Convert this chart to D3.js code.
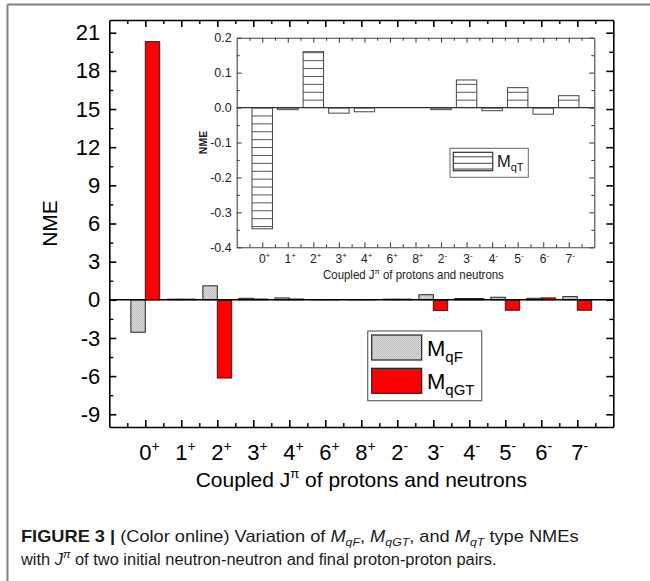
<!DOCTYPE html>
<html><head><meta charset="utf-8">
<script src="https://cdn.jsdelivr.net/npm/d3@7"></script>
<style>
html,body{margin:0;padding:0;background:#fff;}
svg text{font-family:"Liberation Sans",Arial,sans-serif;}
</style></head>
<body>
<svg id="c" width="650" height="581"></svg>
<script>
// ---------- data ----------
const categories = ["0","1","2","3","4","6","8","2","3","4","5","6","7"];
const parities   = ["+","+","+","+","+","+","+","-","-","-","-","-","-"];
const mqF  = [-2.55, 0.05, 1.1, 0.12, 0.15, 0.02, 0.02, 0.05, 0.4, 0.1, 0.2, 0.12, 0.25];
const mqGT = [20.3, 0.05, -6.15, 0.06, 0.06, 0.02, 0.02, 0.05, -0.85, 0.1, -0.82, 0.15, -0.82];
const mqT  = [-0.347, -0.006, 0.160, -0.016, -0.012, 0.0, 0.0, -0.006, 0.079, -0.009, 0.057, -0.019, 0.034];
const mainYTicks  = [-9,-6,-3,0,3,6,9,12,15,18,21];
const insetYTicks = [-0.4,-0.3,-0.2,-0.1,0.0,0.1,0.2];
const legendMain  = [{name:"M", sub:"qF"}, {name:"M", sub:"qGT"}];
const legendInset = [{name:"M", sub:"qT"}];

const svg = d3.select("#c");

// outer frame
svg.append("line").attr("x1",7.5).attr("y1",4.5).attr("x2",650).attr("y2",4.5).attr("stroke","#808080").attr("stroke-width",2);
svg.append("line").attr("x1",7.5).attr("y1",4.5).attr("x2",7.5).attr("y2",581).attr("stroke","#808080").attr("stroke-width",2);

const defs = svg.append("defs");
// stipple for MqF
const pf = defs.append("pattern").attr("id","stip").attr("patternUnits","userSpaceOnUse").attr("width",2).attr("height",2);
pf.append("rect").attr("width",2).attr("height",2).attr("fill","#dadada");
pf.append("rect").attr("width",1).attr("height",1).attr("fill","#b8b8b8");
pf.append("rect").attr("x",1).attr("y",1).attr("width",1).attr("height",1).attr("fill","#c4c4c4");

// ---------- main chart ----------
const M = {l:109.3, r:613.3, t:20, b:427};
const x = d3.scaleLinear().domain([0,14]).range([M.l, M.r]);
const y = d3.scaleLinear().domain([-10,22]).range([M.b, M.t]);
const idx = categories.map((d,i)=>i+1);
const bw = 0.4;
const hy = v => String(v);                 // plain hyphen-minus
const hy1 = v => (+v).toFixed(1);

const g = svg.append("g");
// bars
g.selectAll(".bf").data(mqF).join("rect")
  .attr("x",(d,i)=>x(i+1-bw)).attr("width",x(bw)-x(0))
  .attr("y",d=>y(Math.max(d,0))).attr("height",d=>Math.abs(y(d)-y(0)))
  .attr("fill","url(#stip)").attr("stroke","#222").attr("stroke-width",1);
g.selectAll(".bg").data(mqGT).join("rect")
  .attr("x",(d,i)=>x(i+1)).attr("width",x(bw)-x(0))
  .attr("y",d=>y(Math.max(d,0))).attr("height",d=>Math.abs(y(d)-y(0)))
  .attr("fill","#ff0000").attr("stroke","#222").attr("stroke-width",1);
// zero line
g.append("line").attr("x1",x(0)).attr("x2",x(14)).attr("y1",y(0)).attr("y2",y(0)).attr("stroke","#000").attr("stroke-width",1.6);

function styleAxis(sel, w){
  sel.selectAll("path,line").attr("stroke","#000").attr("stroke-width",w);
}
const minorY = d3.range(-9.0, 22.01, 1.5).filter(v=>!mainYTicks.includes(v));
const majorX = idx;
const minorX = d3.range(0.5, 14, 1);

// left axis
g.append("g").attr("transform",`translate(${M.l},0)`)
  .call(d3.axisLeft(y).tickValues(mainYTicks).tickSizeInner(-7).tickSizeOuter(0).tickPadding(9).tickFormat(hy))
  .call(s=>{styleAxis(s,1.6); s.selectAll("text").attr("font-size",22).attr("fill","#000").attr("font-family","Liberation Sans, Arial");});
g.append("g").attr("transform",`translate(${M.l},0)`)
  .call(d3.axisLeft(y).tickValues(minorY).tickSizeInner(-4).tickSizeOuter(0).tickFormat(""))
  .call(s=>{styleAxis(s,1.4); s.select(".domain").remove();});
// right axis
g.append("g").attr("transform",`translate(${M.r},0)`)
  .call(d3.axisRight(y).tickValues(mainYTicks).tickSizeInner(-7).tickSizeOuter(0).tickFormat(""))
  .call(s=>styleAxis(s,1.6));
g.append("g").attr("transform",`translate(${M.r},0)`)
  .call(d3.axisRight(y).tickValues(minorY).tickSizeInner(-4).tickSizeOuter(0).tickFormat(""))
  .call(s=>{styleAxis(s,1.4); s.select(".domain").remove();});
// bottom axis
g.append("g").attr("transform",`translate(0,${M.b})`)
  .call(d3.axisBottom(x).tickValues(majorX).tickSizeInner(-7).tickSizeOuter(0).tickFormat(""))
  .call(s=>styleAxis(s,1.6));
g.append("g").attr("transform",`translate(0,${M.b})`)
  .call(d3.axisBottom(x).tickValues(minorX).tickSizeInner(-4).tickSizeOuter(0).tickFormat(""))
  .call(s=>{styleAxis(s,1.4); s.select(".domain").remove();});
// top axis
g.append("g").attr("transform",`translate(0,${M.t})`)
  .call(d3.axisTop(x).tickValues(majorX).tickSizeInner(-7).tickSizeOuter(0).tickFormat(""))
  .call(s=>styleAxis(s,1.6));
g.append("g").attr("transform",`translate(0,${M.t})`)
  .call(d3.axisTop(x).tickValues(minorX).tickSizeInner(-4).tickSizeOuter(0).tickFormat(""))
  .call(s=>{styleAxis(s,1.4); s.select(".domain").remove();});

// x tick labels: digit centred on the tick, parity sign as superscript after it
function catLabels(sel, scale, yPos, fs, sfs, sdy, color){
  sel.each(function(d,i){
    const t = d3.select(this).attr("y",yPos).attr("font-size",fs).attr("fill",color).attr("text-anchor","start");
    const a = t.append("tspan").text(d);
    t.append("tspan").attr("font-size",sfs).attr("dy",sdy).text(parities[i]);
    const w = a.node().getComputedTextLength();
    t.attr("x", scale(i+1) - w/2);
  });
}
g.selectAll(".xl").data(categories).join("text").call(catLabels, x, M.b+33, 22, 14, -9, "#000");

// axis titles
g.append("text").attr("transform",`translate(57,${(M.t+M.b)/2}) rotate(-90)`)
  .attr("text-anchor","middle").attr("font-size",21).attr("fill","#000").text("NME");
const xt = g.append("text").attr("x",(M.l+M.r)/2).attr("y",487).attr("text-anchor","middle").attr("font-size",21).attr("fill","#000");
xt.append("tspan").text("Coupled J");
xt.append("tspan").attr("font-size",13).attr("dy",-9).text("π");
xt.append("tspan").attr("dy",9).text("  of protons and neutrons");

// main legend
const lg = g.append("g");
lg.append("rect").attr("x",367.7).attr("y",331).attr("width",114).attr("height",69.7).attr("fill","#fff").attr("stroke","#666").attr("stroke-width",1.2);
const lfill = ["url(#stip)","#ff0000"];
legendMain.forEach((d,i)=>{
  lg.append("rect").attr("x",371.7).attr("y",335+i*33.3).attr("width",50).attr("height",25)
    .attr("fill",lfill[i]).attr("stroke","#222").attr("stroke-width",1.2);
  const t = lg.append("text").attr("x",427).attr("y",355.5+i*33.3).attr("font-size",22).attr("fill","#000");
  t.append("tspan").text(d.name);
  t.append("tspan").attr("font-size",15).attr("dy",6).text(d.sub);
});

// ---------- inset ----------
const I = {l:236.7, r:594.3, t:37.7, b:247.3};
const xi = d3.scaleLinear().domain([0,14]).range([I.l, I.r]);
const yi = d3.scaleLinear().domain([-0.4,0.2]).range([I.b, I.t]);
const gi = svg.append("g");
const hp = defs.append("pattern").attr("id","hatch").attr("patternUnits","userSpaceOnUse")
  .attr("width",10).attr("height",7.9).attr("y",yi(0));
hp.append("rect").attr("width",10).attr("height",7.9).attr("fill","#fff");
hp.append("line").attr("x1",0).attr("x2",10).attr("y1",0.5).attr("y2",0.5).attr("stroke","#555").attr("stroke-width",1);

gi.append("rect").attr("x",I.l).attr("y",I.t).attr("width",I.r-I.l).attr("height",I.b-I.t).attr("fill","#fff");
gi.selectAll(".bt").data(mqT).join("rect")
  .attr("x",(d,i)=>xi(i+1-bw)).attr("width",xi(2*bw)-xi(0))
  .attr("y",d=>yi(Math.max(d,0))).attr("height",d=>Math.abs(yi(d)-yi(0)))
  .attr("fill","url(#hatch)").attr("stroke","#444").attr("stroke-width",1);
gi.append("line").attr("x1",I.l).attr("x2",I.r).attr("y1",yi(0)).attr("y2",yi(0)).attr("stroke","#333").attr("stroke-width",1.2);

const minorYi = d3.range(-0.35, 0.2, 0.1).map(v=>+v.toFixed(2));
function styleI(sel){ sel.selectAll("path,line").attr("stroke","#444").attr("stroke-width",1.1); }
gi.append("g").attr("transform",`translate(${I.l},0)`)
  .call(d3.axisLeft(yi).tickValues(insetYTicks).tickSizeInner(-5).tickSizeOuter(0).tickPadding(5).tickFormat(hy1))
  .call(s=>{styleI(s); s.selectAll("text").attr("font-size",12.5).attr("fill","#222");});
gi.append("g").attr("transform",`translate(${I.l},0)`)
  .call(d3.axisLeft(yi).tickValues(minorYi).tickSizeInner(-3).tickSizeOuter(0).tickFormat(""))
  .call(s=>{styleI(s); s.select(".domain").remove();});
gi.append("g").attr("transform",`translate(${I.r},0)`)
  .call(d3.axisRight(yi).tickValues(insetYTicks).tickSizeInner(-5).tickSizeOuter(0).tickFormat(""))
  .call(styleI);
gi.append("g").attr("transform",`translate(${I.r},0)`)
  .call(d3.axisRight(yi).tickValues(minorYi).tickSizeInner(-3).tickSizeOuter(0).tickFormat(""))
  .call(s=>{styleI(s); s.select(".domain").remove();});
gi.append("g").attr("transform",`translate(0,${I.b})`)
  .call(d3.axisBottom(xi).tickValues(majorX).tickSizeInner(-5).tickSizeOuter(0).tickFormat(""))
  .call(styleI);
gi.append("g").attr("transform",`translate(0,${I.b})`)
  .call(d3.axisBottom(xi).tickValues(minorX).tickSizeInner(-3).tickSizeOuter(0).tickFormat(""))
  .call(s=>{styleI(s); s.select(".domain").remove();});
gi.append("g").attr("transform",`translate(0,${I.t})`)
  .call(d3.axisTop(xi).tickValues(majorX).tickSizeInner(-5).tickSizeOuter(0).tickFormat(""))
  .call(styleI);
gi.append("g").attr("transform",`translate(0,${I.t})`)
  .call(d3.axisTop(xi).tickValues(minorX).tickSizeInner(-3).tickSizeOuter(0).tickFormat(""))
  .call(s=>{styleI(s); s.select(".domain").remove();});

gi.selectAll(".xli").data(categories).join("text").call(catLabels, xi, I.b+16, 12, 8, -5, "#222");

gi.append("text").attr("transform",`translate(207,${(I.t+I.b)/2}) rotate(-90)`)
  .attr("text-anchor","middle").attr("font-size",10.5).attr("font-weight","bold").attr("fill","#222").text("NME");
{
  const grp = gi.append("g");
  const xti = grp.append("text").attr("x",0).attr("y",0).attr("font-size",12).attr("fill","#222");
  xti.append("tspan").text("Coupled J");
  xti.append("tspan").attr("font-size",8).attr("dy",-5).text("π");
  xti.append("tspan").attr("dy",5).text("  of protons and neutrons");
  const w = xti.node().getBBox().width;
  grp.attr("transform",`translate(323,279) scale(${181/w},1)`);
}

// inset legend
legendInset.forEach((d,i)=>{
  gi.append("rect").attr("x",450).attr("y",148.3).attr("width",78.3).attr("height",29).attr("fill","#fff").attr("stroke","#666").attr("stroke-width",1);
  const sw = gi.append("g");
  sw.append("rect").attr("x",453.3).attr("y",152.3).attr("width",39.4).attr("height",18.4).attr("fill","#fff").attr("stroke","#333").attr("stroke-width",1.2);
  [156.8,163.3,169].forEach(yy=>sw.append("line").attr("x1",453.3).attr("x2",492.7).attr("y1",yy).attr("y2",yy).attr("stroke","#444").attr("stroke-width",1));
  const t = gi.append("text").attr("x",497).attr("y",166.8).attr("font-size",16.5).attr("fill","#111");
  t.append("tspan").text(d.name);
  t.append("tspan").attr("font-size",11).attr("dy",4).text(d.sub);
});

// ---------- caption ----------
function captionLine(xPos, yPos, target, build){
  const grp = svg.append("g");
  const t = grp.append("text").attr("x",0).attr("y",0).attr("font-size",17).attr("fill","#1a1a1a");
  build(t);
  const w = t.node().getBBox().width;
  grp.attr("transform",`translate(${xPos},${yPos}) scale(${target/w},1)`);
}
captionLine(21, 542, 558, t=>{
  t.append("tspan").attr("font-weight","bold").text("FIGURE 3 | ");
  t.append("tspan").text("(Color online) Variation of ");
  t.append("tspan").attr("font-style","italic").text("M");
  t.append("tspan").attr("font-style","italic").attr("font-size",11.5).attr("dy",4).text("qF");
  t.append("tspan").attr("dy",-4).text(", ");
  t.append("tspan").attr("font-style","italic").text("M");
  t.append("tspan").attr("font-style","italic").attr("font-size",11.5).attr("dy",4).text("qGT");
  t.append("tspan").attr("dy",-4).text(", and ");
  t.append("tspan").attr("font-style","italic").text("M");
  t.append("tspan").attr("font-style","italic").attr("font-size",11.5).attr("dy",4).text("qT");
  t.append("tspan").attr("dy",-4).text(" type NMEs");
});
captionLine(21, 565, 477, t=>{
  t.append("tspan").text("with ");
  t.append("tspan").attr("font-style","italic").text("J");
  t.append("tspan").attr("font-style","italic").attr("font-size",11.5).attr("dy",-7).text("π");
  t.append("tspan").attr("dy",7).text(" of two initial neutron-neutron and final proton-proton pairs.");
});
</script>
</body></html>
